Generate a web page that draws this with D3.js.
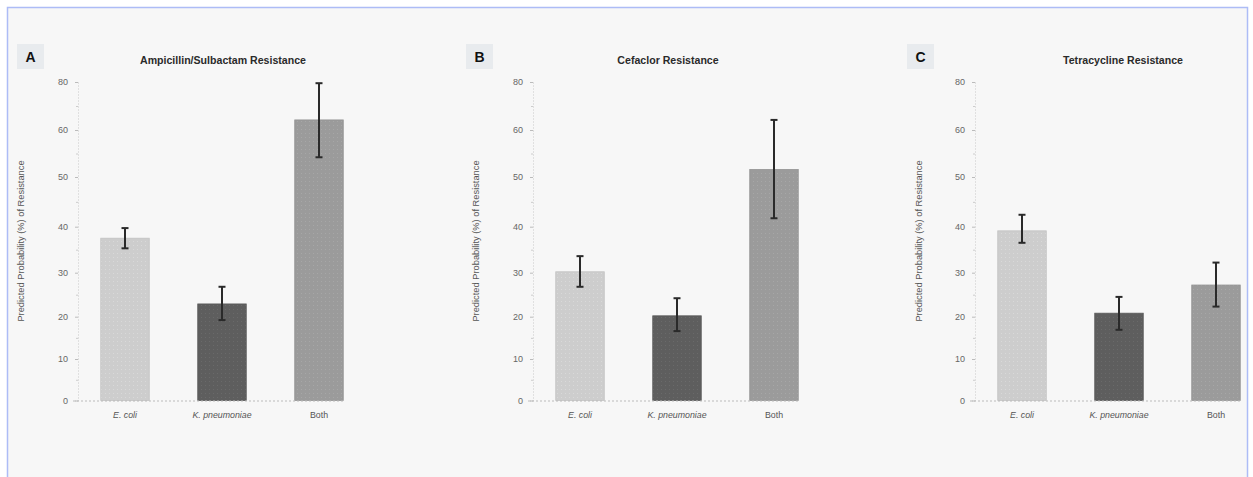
<!DOCTYPE html>
<html>
<head>
<meta charset="utf-8">
<script src="https://cdn.jsdelivr.net/npm/d3@7"></script>
<style>
    body { margin: 0; background: #fff; }
    svg { display: block; font-family: "Liberation Sans", Arial, sans-serif; }
</style>
</head>
<body>
<svg id="chart" width="1253" height="477"></svg>
<script>
// data
var categories = ["E. coli", "K. pneumoniae", "Both"];
var panelLetters = ["A", "B", "C"];
var panelTitles = ["Ampicillin/Sulbactam Resistance", "Cefaclor Resistance", "Tetracycline Resistance"];
var ampValues = [37.5, 22.9, 64.2];
var ampLow = [35.3, 19.2, 54.2];
var ampHigh = [39.7, 26.8, 79.5];
var cefValues = [30.2, 20.2, 51.6];
var cefLow = [26.8, 16.6, 41.7];
var cefHigh = [33.6, 24.2, 64.2];
var tetValues = [39.1, 20.8, 27.2];
var tetLow = [36.5, 16.9, 22.3];
var tetHigh = [42.4, 24.5, 32.2];
var yTicks = [0, 10, 20, 30, 40, 50, 60, 80];
var yLabel = "Predicted Probability (%) of Resistance";

var series = [
    {values: ampValues, low: ampLow, high: ampHigh},
    {values: cefValues, low: cefLow, high: cefHigh},
    {values: tetValues, low: tetLow, high: tetHigh}
];

// layout for each panel (axis x, title centre, letter box, y label x)
var layout = [
    {axisX: 78, titleX: 223, boxX: 17, labelX: 21},
    {axisX: 533, titleX: 668, boxX: 466, labelX: 476},
    {axisX: 975, titleX: 1123, boxX: 907, labelX: 919}
];
// pixel rows of the ticks as they sit in the picture (the scan is unevenly stretched)
var tickRows = [400.5, 359, 316.7, 272.7, 226.7, 177, 130, 82];
var barColors = ["#cdcdcd", "#5e5e5e", "#9b9b9b"];

var svg = d3.select("#chart");

// frame
svg.append("rect")
    .attr("x", 7.5).attr("y", 7.5)
    .attr("width", 1240).attr("height", 480)
    .attr("fill", "#f7f7f7")
    .attr("stroke", "#adbcf6")
    .attr("stroke-width", 1.5);

// dotted texture on the bars
var defs = svg.append("defs");
barColors.forEach(function (c, i) {
    var p = defs.append("pattern")
        .attr("id", "dots" + i)
        .attr("width", 4).attr("height", 4)
        .attr("patternUnits", "userSpaceOnUse");
    p.append("rect").attr("width", 4).attr("height", 4).attr("fill", c);
    p.append("rect").attr("x", 1).attr("y", 1).attr("width", 1).attr("height", 1)
        .attr("fill", i == 1 ? "#6a6a6a" : (i == 0 ? "#d9d9d9" : "#a7a7a7"));
});

var y = d3.scaleLinear().domain(yTicks).range(tickRows);

// minor ticks halfway between the labelled ones
var minorTicks = d3.pairs(yTicks).map(function (p) { return (p[0] + p[1]) / 2; });

function drawPanel(d, i) {
    var lay = layout[i];
    var g = svg.append("g");

    var x = d3.scaleBand()
        .domain(categories)
        .range([lay.axisX - 1.5, lay.axisX + 289.5])
        .paddingInner(0.5)
        .paddingOuter(0.25);

    // letter box
    g.append("rect")
        .attr("x", lay.boxX).attr("y", 44)
        .attr("width", 27).attr("height", 25)
        .attr("fill", "#e8ebee");
    g.append("text")
        .attr("x", lay.boxX + 13.5).attr("y", 61.5)
        .attr("text-anchor", "middle")
        .attr("font-size", 14).attr("font-weight", "bold")
        .attr("fill", "#111")
        .text(panelLetters[i]);

    // title
    g.append("text")
        .attr("x", lay.titleX).attr("y", 64)
        .attr("text-anchor", "middle")
        .attr("font-size", 10.6).attr("font-weight", "bold")
        .attr("fill", "#2a2a2a")
        .text(panelTitles[i]);

    // y axis
    var axis = d3.axisLeft(y).tickValues(yTicks).tickSize(3).tickPadding(7);
    var ag = g.append("g")
        .attr("transform", "translate(" + lay.axisX + ",0)")
        .call(axis);
    ag.select(".domain")
        .attr("stroke", "#c8c8c8")
        .attr("stroke-dasharray", "1,2");
    ag.selectAll(".tick line").attr("stroke", "#bbb");
    ag.selectAll(".tick text")
        .attr("font-size", 9).attr("fill", "#666")
        .attr("font-family", "Liberation Sans, Arial, sans-serif");

    // minor ticks
    g.selectAll(".minor")
        .data(minorTicks)
        .enter().append("line")
        .attr("x1", lay.axisX - 2).attr("x2", lay.axisX)
        .attr("y1", function (v) { return y(v) + 0.5; })
        .attr("y2", function (v) { return y(v) + 0.5; })
        .attr("stroke", "#ccc");

    // y label
    g.append("text")
        .attr("transform", "translate(" + lay.labelX + ",241) rotate(-90)")
        .attr("text-anchor", "middle")
        .attr("dy", "0.35em")
        .attr("font-size", 9.3).attr("fill", "#555")
        .text(yLabel);

    // bars
    g.selectAll(".bar")
        .data(categories)
        .enter().append("rect")
        .attr("x", function (c) { return x(c); })
        .attr("y", function (c, j) { return y(d.values[j]); })
        .attr("width", x.bandwidth())
        .attr("height", function (c, j) { return y(0) - y(d.values[j]); })
        .attr("fill", function (c, j) { return "url(#dots" + j + ")"; })
        .attr("stroke", function (c, j) { return d3.color(barColors[j]).darker(0.15); })
        .attr("stroke-width", 0.8);

    // baseline
    g.append("line")
        .attr("x1", lay.axisX - 5).attr("x2", x("Both") + x.bandwidth())
        .attr("y1", y(0) + 0.5).attr("y2", y(0) + 0.5)
        .attr("stroke", "#bbb")
        .attr("stroke-dasharray", "2,2");

    // error bars
    var eg = g.selectAll(".err")
        .data(categories)
        .enter().append("g")
        .attr("transform", function (c) { return "translate(" + (x(c) + x.bandwidth() / 2) + ",0)"; });
    eg.append("line")
        .attr("y1", function (c, j) { return y(d.low[j]); })
        .attr("y2", function (c, j) { return y(d.high[j]); })
        .attr("stroke", "#2a2a2a").attr("stroke-width", 2);
    eg.append("line")
        .attr("x1", -3.5).attr("x2", 3.5)
        .attr("y1", function (c, j) { return y(d.high[j]); })
        .attr("y2", function (c, j) { return y(d.high[j]); })
        .attr("stroke", "#2a2a2a").attr("stroke-width", 2);
    eg.append("line")
        .attr("x1", -3.5).attr("x2", 3.5)
        .attr("y1", function (c, j) { return y(d.low[j]); })
        .attr("y2", function (c, j) { return y(d.low[j]); })
        .attr("stroke", "#2a2a2a").attr("stroke-width", 2);

    // category labels
    g.selectAll(".cat")
        .data(categories)
        .enter().append("text")
        .attr("x", function (c) { return x(c) + x.bandwidth() / 2; })
        .attr("y", 417.5)
        .attr("text-anchor", "middle")
        .attr("font-size", 8.8).attr("fill", "#555")
        .attr("font-style", function (c) { return c == "Both" ? "normal" : "italic"; })
        .text(function (c) { return c; });
}

series.forEach(drawPanel);
</script>
</body>
</html>
